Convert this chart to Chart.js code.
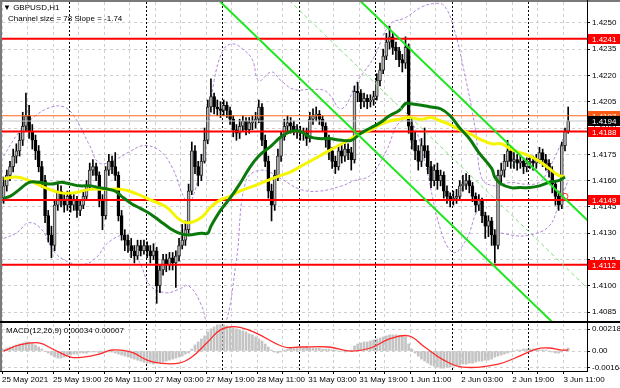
<!DOCTYPE html>
<html>
<head>
<meta charset="utf-8">
<script src="https://cdn.jsdelivr.net/npm/chart.js@4.4.0/dist/chart.umd.min.js"></script>
<style>
  html, body { margin: 0; padding: 0; background: #fff; }
  #wrap { position: relative; width: 620px; height: 388px; overflow: hidden; font-family: 'Liberation Sans', Arial, sans-serif; }
  #mainBox { position: absolute; left: 0; top: 0; width: 620px; height: 323px; }
  #macdBox { position: absolute; left: 0; top: 323px; width: 620px; height: 65px; }
  .lbl { position: absolute; font-size: 8px; line-height: 9px; color: #000; white-space: nowrap; }
</style>
</head>
<body>
<div id="wrap">
  <div id="mainBox"><canvas id="mainChart" width="620" height="323"></canvas></div>
  <div id="macdBox"><canvas id="macdChart" width="620" height="65"></canvas></div>
  <div class="lbl" style="left:3px;top:3px">▼ GBPUSD,H1</div>
  <div class="lbl" style="left:8px;top:14px">Channel size = 78 Slope = -1.74</div>
  <div class="lbl" style="left:6px;top:326px">MACD(12,26,9) 0.00034 0.00007</div>
</div>
<script>
// GBPUSD H1 bars, 25 May 03:00 -> 3 Jun 12:00 (178 bars)
var opens = [
  1.4150, 1.4157, 1.4163, 1.4168, 1.4174, 1.4177, 1.4183, 1.4191, 1.4197, 1.4188,
  1.4183, 1.4177, 1.4168, 1.4160, 1.4140, 1.4129, 1.4123, 1.4146, 1.4154, 1.4149,
  1.4146, 1.4151, 1.4146, 1.4149, 1.4143, 1.4146, 1.4151, 1.4157, 1.4166, 1.4168,
  1.4163, 1.4149, 1.4140, 1.4166, 1.4171, 1.4168, 1.4163, 1.4140, 1.4129, 1.4126,
  1.4123, 1.4120, 1.4117, 1.4123, 1.4120, 1.4123, 1.4120, 1.4117, 1.4120, 1.4100,
  1.4109, 1.4115, 1.4112, 1.4116, 1.4113, 1.4117, 1.4123, 1.4126, 1.4132, 1.4154,
  1.4177, 1.4168, 1.4163, 1.4171, 1.4183, 1.4202, 1.4208, 1.4202, 1.4201, 1.4200,
  1.4203, 1.4200, 1.4195, 1.4189, 1.4187, 1.4191, 1.4194, 1.4189, 1.4193, 1.4194,
  1.4195, 1.4202, 1.4183, 1.4171, 1.4154, 1.4146, 1.4163, 1.4174, 1.4185, 1.4191,
  1.4193, 1.4191, 1.4189, 1.4188, 1.4187, 1.4187, 1.4184, 1.4195, 1.4197, 1.4198,
  1.4195, 1.4191, 1.4183, 1.4177, 1.4171, 1.4168, 1.4177, 1.4174, 1.4178, 1.4176,
  1.4172, 1.4211, 1.4210, 1.4205, 1.4207, 1.4205, 1.4206, 1.4208, 1.4217, 1.4223,
  1.4231, 1.4239, 1.4242, 1.4236, 1.4234, 1.4229, 1.4227, 1.4236, 1.4191, 1.4183,
  1.4177, 1.4171, 1.4180, 1.4177, 1.4168, 1.4160, 1.4166, 1.4160, 1.4163, 1.4154,
  1.4151, 1.4149, 1.4150, 1.4151, 1.4157, 1.4158, 1.4160, 1.4157, 1.4151, 1.4146,
  1.4149, 1.4140, 1.4134, 1.4137, 1.4129, 1.4123, 1.4163, 1.4166, 1.4171, 1.4177,
  1.4171, 1.4172, 1.4170, 1.4171, 1.4168, 1.4170, 1.4171, 1.4170, 1.4172, 1.4176,
  1.4172, 1.4170, 1.4166, 1.4158, 1.4151, 1.4146, 1.4180, 1.4188
];
var highs = [
  1.4162, 1.4166, 1.4171, 1.4178, 1.4181, 1.4187, 1.4199, 1.4210, 1.4203, 1.4192,
  1.4186, 1.4180, 1.4171, 1.4163, 1.4143, 1.4134, 1.4149, 1.4158, 1.4157, 1.4152,
  1.4154, 1.4153, 1.4152, 1.4151, 1.4149, 1.4154, 1.4160, 1.4170, 1.4172, 1.4170,
  1.4165, 1.4152, 1.4168, 1.4175, 1.4174, 1.4176, 1.4165, 1.4143, 1.4132, 1.4129,
  1.4127, 1.4123, 1.4126, 1.4126, 1.4126, 1.4125, 1.4123, 1.4124, 1.4122, 1.4112,
  1.4118, 1.4118, 1.4119, 1.4119, 1.4120, 1.4127, 1.4135, 1.4137, 1.4158, 1.4182,
  1.4180, 1.4171, 1.4175, 1.4190, 1.4206, 1.4218, 1.4210, 1.4206, 1.4205, 1.4206,
  1.4205, 1.4202, 1.4197, 1.4192, 1.4195, 1.4197, 1.4196, 1.4196, 1.4197, 1.4199,
  1.4206, 1.4204, 1.4186, 1.4174, 1.4158, 1.4166, 1.4178, 1.4188, 1.4195, 1.4197,
  1.4196, 1.4194, 1.4192, 1.4191, 1.4190, 1.4190, 1.4199, 1.4201, 1.4202, 1.4200,
  1.4197, 1.4193, 1.4186, 1.4179, 1.4174, 1.4180, 1.4180, 1.4181, 1.4181, 1.4179,
  1.4214, 1.4216, 1.4212, 1.4210, 1.4209, 1.4209, 1.4211, 1.4221, 1.4227, 1.4235,
  1.4244, 1.4248, 1.4244, 1.4239, 1.4236, 1.4232, 1.4242, 1.4238, 1.4196, 1.4188,
  1.4180, 1.4184, 1.4190, 1.4180, 1.4171, 1.4169, 1.4170, 1.4166, 1.4165, 1.4157,
  1.4153, 1.4154, 1.4155, 1.4160, 1.4163, 1.4164, 1.4163, 1.4159, 1.4153, 1.4152,
  1.4150, 1.4142, 1.4140, 1.4139, 1.4132, 1.4166, 1.4170, 1.4175, 1.4183, 1.4179,
  1.4176, 1.4175, 1.4174, 1.4173, 1.4173, 1.4174, 1.4174, 1.4175, 1.4179, 1.4178,
  1.4175, 1.4172, 1.4168, 1.4160, 1.4154, 1.4182, 1.4190, 1.4202
];
var lows = [
  1.4147, 1.4154, 1.4160, 1.4165, 1.4170, 1.4174, 1.4180, 1.4188, 1.4184, 1.4178,
  1.4172, 1.4165, 1.4156, 1.4136, 1.4125, 1.4116, 1.4120, 1.4143, 1.4145, 1.4142,
  1.4143, 1.4142, 1.4143, 1.4139, 1.4140, 1.4144, 1.4149, 1.4155, 1.4163, 1.4160,
  1.4145, 1.4132, 1.4138, 1.4163, 1.4164, 1.4160, 1.4137, 1.4126, 1.4120, 1.4119,
  1.4116, 1.4113, 1.4115, 1.4117, 1.4118, 1.4116, 1.4113, 1.4115, 1.4090, 1.4096,
  1.4106, 1.4108, 1.4109, 1.4109, 1.4099, 1.4114, 1.4121, 1.4123, 1.4130, 1.4152,
  1.4164, 1.4157, 1.4160, 1.4170, 1.4181, 1.4199, 1.4198, 1.4197, 1.4196, 1.4197,
  1.4196, 1.4192, 1.4185, 1.4183, 1.4184, 1.4188, 1.4186, 1.4187, 1.4189, 1.4190,
  1.4193, 1.4180, 1.4168, 1.4150, 1.4137, 1.4143, 1.4160, 1.4171, 1.4183, 1.4188,
  1.4187, 1.4186, 1.4184, 1.4183, 1.4183, 1.4180, 1.4182, 1.4192, 1.4194, 1.4192,
  1.4188, 1.4179, 1.4172, 1.4167, 1.4164, 1.4166, 1.4170, 1.4171, 1.4172, 1.4166,
  1.4170, 1.4205, 1.4201, 1.4202, 1.4201, 1.4202, 1.4203, 1.4206, 1.4214, 1.4221,
  1.4229, 1.4235, 1.4232, 1.4229, 1.4225, 1.4222, 1.4224, 1.4187, 1.4178, 1.4172,
  1.4166, 1.4168, 1.4173, 1.4164, 1.4156, 1.4157, 1.4155, 1.4157, 1.4150, 1.4147,
  1.4145, 1.4146, 1.4147, 1.4149, 1.4154, 1.4155, 1.4153, 1.4148, 1.4142, 1.4143,
  1.4136, 1.4127, 1.4128, 1.4123, 1.4113, 1.4121, 1.4158, 1.4162, 1.4168, 1.4167,
  1.4167, 1.4166, 1.4167, 1.4164, 1.4165, 1.4167, 1.4166, 1.4167, 1.4170, 1.4168,
  1.4166, 1.4162, 1.4153, 1.4146, 1.4143, 1.4144, 1.4177, 1.4187
];
var closes = [
  1.4157, 1.4163, 1.4168, 1.4174, 1.4177, 1.4183, 1.4191, 1.4197, 1.4188, 1.4183,
  1.4177, 1.4168, 1.4160, 1.4140, 1.4129, 1.4123, 1.4146, 1.4154, 1.4149, 1.4146,
  1.4151, 1.4146, 1.4149, 1.4143, 1.4146, 1.4151, 1.4157, 1.4166, 1.4168, 1.4163,
  1.4149, 1.4140, 1.4166, 1.4171, 1.4168, 1.4163, 1.4140, 1.4129, 1.4126, 1.4123,
  1.4120, 1.4117, 1.4123, 1.4120, 1.4123, 1.4120, 1.4117, 1.4120, 1.4100, 1.4109,
  1.4115, 1.4112, 1.4116, 1.4113, 1.4117, 1.4123, 1.4126, 1.4132, 1.4154, 1.4177,
  1.4168, 1.4163, 1.4171, 1.4183, 1.4202, 1.4208, 1.4202, 1.4201, 1.4200, 1.4203,
  1.4200, 1.4195, 1.4189, 1.4187, 1.4191, 1.4194, 1.4189, 1.4193, 1.4194, 1.4195,
  1.4202, 1.4183, 1.4171, 1.4154, 1.4146, 1.4163, 1.4174, 1.4185, 1.4191, 1.4193,
  1.4191, 1.4189, 1.4188, 1.4187, 1.4187, 1.4184, 1.4195, 1.4197, 1.4198, 1.4195,
  1.4191, 1.4183, 1.4177, 1.4171, 1.4168, 1.4177, 1.4174, 1.4178, 1.4176, 1.4172,
  1.4211, 1.4210, 1.4205, 1.4207, 1.4205, 1.4206, 1.4208, 1.4217, 1.4223, 1.4231,
  1.4239, 1.4242, 1.4236, 1.4234, 1.4229, 1.4227, 1.4236, 1.4191, 1.4183, 1.4177,
  1.4171, 1.4180, 1.4177, 1.4168, 1.4160, 1.4166, 1.4160, 1.4163, 1.4154, 1.4151,
  1.4149, 1.4150, 1.4151, 1.4157, 1.4158, 1.4160, 1.4157, 1.4151, 1.4146, 1.4149,
  1.4140, 1.4134, 1.4137, 1.4129, 1.4123, 1.4163, 1.4166, 1.4171, 1.4177, 1.4171,
  1.4172, 1.4170, 1.4171, 1.4168, 1.4170, 1.4171, 1.4170, 1.4172, 1.4176, 1.4172,
  1.4170, 1.4166, 1.4158, 1.4151, 1.4146, 1.4180, 1.4188, 1.4194
];

// moving averages, sampled at bar indexes
var yellowMaBars = [0, 4, 8, 13, 18, 22, 27, 32, 37, 41, 46, 51, 55, 58, 62, 65, 68, 71, 74, 77, 80, 84, 87, 90, 93, 96, 99, 102, 106, 109, 112, 115, 118, 121, 124, 127, 131, 134, 137, 140, 143, 146, 149, 153, 156, 159, 162, 165, 168, 171, 174, 176];
var yellowMa = [1.4161, 1.4162, 1.4160, 1.4156, 1.4153, 1.4153, 1.4155, 1.4155, 1.4155, 1.4153, 1.4149, 1.4145, 1.4138, 1.4136, 1.4139, 1.4145, 1.4149, 1.4151, 1.4154, 1.4156, 1.4158, 1.4161, 1.4163, 1.4165, 1.4168, 1.4171, 1.4174, 1.4177, 1.4181, 1.4184, 1.4187, 1.4189, 1.4192, 1.4194, 1.4195, 1.4196, 1.4195, 1.4196, 1.4194, 1.4192, 1.4189, 1.4187, 1.4184, 1.4181, 1.4181, 1.4178, 1.4176, 1.4174, 1.4171, 1.4167, 1.4163, 1.4162];
var greenMaBars = [0, 2, 5, 8, 11, 15, 18, 21, 24, 27, 30, 33, 35, 37, 40, 43, 46, 49, 52, 55, 58, 62, 64, 65, 68, 71, 74, 77, 80, 84, 87, 90, 93, 96, 99, 102, 106, 109, 112, 115, 118, 121, 124, 126, 127, 131, 134, 137, 140, 143, 146, 149, 153, 154, 156, 159, 162, 165, 168, 171, 174, 176];
var greenMa = [1.4150, 1.4151, 1.4155, 1.4159, 1.4159, 1.4158, 1.4159, 1.4158, 1.4157, 1.4157, 1.4156, 1.4155, 1.4154, 1.4151, 1.4147, 1.4144, 1.4141, 1.4137, 1.4133, 1.4130, 1.4129, 1.4130, 1.4130, 1.4134, 1.4143, 1.4150, 1.4158, 1.4167, 1.4174, 1.4180, 1.4185, 1.4188, 1.4188, 1.4185, 1.4184, 1.4184, 1.4183, 1.4183, 1.4187, 1.4190, 1.4193, 1.4197, 1.4200, 1.4204, 1.4204, 1.4203, 1.4202, 1.4201, 1.4197, 1.4190, 1.4184, 1.4176, 1.4167, 1.4162, 1.4158, 1.4156, 1.4156, 1.4156, 1.4157, 1.4159, 1.4160, 1.4162];

// band lines (purple dashed)
var upperBandBars = [0, 5, 10, 15, 19, 22, 27, 30, 35, 40, 44, 49, 53, 57, 59, 62, 64, 66, 69, 72, 75, 78, 80, 84, 87, 91, 96, 101, 106, 111, 116, 121, 126, 131, 135, 138, 141, 145, 148, 150, 154, 159, 163, 168, 171, 174, 177];
var upperBand = [1.4174, 1.4188, 1.4197, 1.4202, 1.4202, 1.4197, 1.4180, 1.4170, 1.4172, 1.4177, 1.4180, 1.4177, 1.4167, 1.4149, 1.4149, 1.4171, 1.4188, 1.4217, 1.4235, 1.4238, 1.4235, 1.4229, 1.4217, 1.4222, 1.4217, 1.4212, 1.4212, 1.4211, 1.4201, 1.4217, 1.4230, 1.4249, 1.4253, 1.4259, 1.4261, 1.4260, 1.4248, 1.4217, 1.4188, 1.4161, 1.4157, 1.4159, 1.4158, 1.4159, 1.4167, 1.4178, 1.4191];
var lowerBandBars = [0, 4, 8, 12, 16, 21, 25, 29, 33, 38, 43, 46, 51, 55, 58, 62, 65, 69, 73, 76, 81, 87, 93, 99, 106, 110, 115, 120, 124, 128, 132, 137, 141, 145, 149, 153, 159, 165, 171, 174, 177];
var lowerBand = [1.4127, 1.4130, 1.4136, 1.4132, 1.4119, 1.4113, 1.4112, 1.4116, 1.4125, 1.4128, 1.4112, 1.4100, 1.4096, 1.4098, 1.4100, 1.4089, 1.4072, 1.4075, 1.4115, 1.4160, 1.4166, 1.4161, 1.4155, 1.4154, 1.4157, 1.4160, 1.4163, 1.4177, 1.4193, 1.4193, 1.4171, 1.4132, 1.4119, 1.4126, 1.4143, 1.4133, 1.4129, 1.4129, 1.4134, 1.4146, 1.4160];

// price channel: [bar, price] end points
var channelLower = [[66, 1.42654], [174, 1.40758]];
var channelUpper = [[110, 1.42657], [184, 1.41357]];
var channelMid = [[88, 1.42655], [184, 1.40969]];

var redLevels = [1.4241, 1.4188, 1.4149, 1.4112];
var orangeLevel = 1.4197;
var bidLevel = 1.4194;
var markerPoint = [{ x: 176, y: 1.4151 }];

// MACD histogram, one per bar
var macdHist = [
  0.0002, 0.0003, 0.0004, 0.0005,
  0.0006, 0.0007, 0.0008, 0.0009, 0.0009, 0.0008,
  0.0006, 0.0004, 0.0002, 0.0000,
  -0.0002, -0.0004, -0.0006, -0.0007, -0.0007, -0.0006, -0.0005, -0.0004,
  -0.0003, -0.0003, -0.0002, -0.0002, -0.0002, -0.0001, -0.0001, -0.0001, -0.0002,
  -0.0002, -0.0001, -0.0001, -0.0001, -0.0002, -0.0003, -0.0004, -0.0005, -0.0006, -0.0007,
  -0.0008, -0.0009, -0.0010, -0.0011, -0.0012, -0.0012, -0.0013, -0.0012, -0.0012, -0.0011,
  -0.0010, -0.0009, -0.0008, -0.0007, -0.0006, -0.0005, -0.0003, -0.0002,
  0.0002, 0.0006, 0.0009, 0.0012, 0.0015, 0.0019,
  0.0022, 0.0024, 0.0026, 0.0026, 0.0026, 0.0025, 0.0024, 0.0023,
  0.0022, 0.0021, 0.0020, 0.0019, 0.0017, 0.0016, 0.0014, 0.0012, 0.0010, 0.0007,
  0.0004, 0.0001, -0.0001, -0.0002, -0.0001, 0.0001,
  0.0002, 0.0003, 0.0003, 0.0003, 0.0003, 0.0003, 0.0004, 0.0003,
  0.0003, 0.0003, 0.0003, 0.0002, 0.0002, 0.0002, 0.0001, 0.0001, 0.0000, 0.0000,
  -0.0001, 0.0000, 0.0001, 0.0005,
  0.0007, 0.0008, 0.0009, 0.0009, 0.0010, 0.0011, 0.0012,
  0.0013, 0.0014, 0.0015, 0.0016, 0.0016, 0.0016, 0.0015, 0.0015, 0.0014,
  0.0007, 0.0002, -0.0002, -0.0005, -0.0008,
  -0.0010, -0.0012, -0.0014, -0.0015, -0.0016, -0.0017, -0.0017, -0.0016, -0.0016,
  -0.0015, -0.0015, -0.0014, -0.0013, -0.0013, -0.0012, -0.0012, -0.0011, -0.0010, -0.0010,
  -0.0009, -0.0009, -0.0008, -0.0006, -0.0005, -0.0004, -0.0003, -0.0002,
  -0.0001, 0.0000, 0.0001, 0.0001, 0.0002, 0.0002, 0.0002, 0.0002,
  0.0002, 0.0001, 0.0001, 0.0001, 0.0000, -0.0001, -0.0002,
  -0.0002, -0.0001, 0.0001, 0.0003
];
var signalBars = [0, 5, 11, 16, 21, 25, 30, 34, 40, 45, 49, 55, 59, 64, 68, 73, 79, 88, 93, 102, 109, 115, 121, 127, 132, 138, 144, 155, 161, 167, 171, 175, 177];
var signalVals = [0.0000, 0.0006, 0.0008, 0.0001, -0.0006, -0.0006, -0.0003, 0.0001, -0.0001, -0.0009, -0.0012, -0.0012, -0.0006, 0.0009, 0.0021, 0.0024, 0.0018, 0.0004, 0.0004, 0.0004, 0.0000, 0.0003, 0.0012, 0.0015, 0.0004, -0.0009, -0.0016, -0.0013, -0.0006, 0.0002, 0.0003, 0.0001, 0.0001];

// axis ticks / labels
var priceTicks = [1.4085, 1.4100, 1.4115, 1.4130, 1.4145, 1.4160, 1.4175, 1.4190, 1.4205, 1.4220, 1.4235, 1.4250];
var macdTicks = [-0.00164, 0, 0.00218];
var timeLabels = ['25 May 2021', '25 May 19:00', '26 May 11:00', '27 May 03:00', '27 May 19:00', '28 May 11:00',
                  '31 May 03:00', '31 May 19:00', '1 Jun 11:00', '2 Jun 03:00', '2 Jun 19:00', '3 Jun 11:00'];
var dayStarts = [21, 45, 69, 93, 117, 141, 165]; // first bar of each new day

var X_MIN = -0.5, X_MAX = 182.9;
var FONT = { family: "'Liberation Sans', Arial, sans-serif", size: 8 };
var gridX = [];
for (var g = 0; g < 23; g++) gridX.push(g * 8 - 0.5);

function pts(bars, vals) {
  return bars.map(function (b, i) { return { x: b, y: vals[i] }; });
}
function pairPts(p) {
  return p.map(function (q) { return { x: q[0], y: q[1] }; });
}
function hLine(v) {
  return [{ x: X_MIN, y: v }, { x: X_MAX, y: v }];
}

// dotted day separators in both panels
var daySeparators = {
  id: 'daySeparators',
  beforeDatasetsDraw: function (chart) {
    var ctx = chart.ctx, area = chart.chartArea, x = chart.scales.x;
    ctx.save();
    ctx.strokeStyle = '#000';
    ctx.lineWidth = 1;
    ctx.setLineDash([2, 2]);
    dayStarts.forEach(function (bar) {
      var px = Math.round(x.getPixelForValue(bar - 0.5)) + 0.5;
      ctx.beginPath();
      ctx.moveTo(px, area.top);
      ctx.lineTo(px, area.bottom);
      ctx.stroke();
    });
    ctx.restore();
  }
};

// frame + price boxes on the right axis
var mainFrame = {
  id: 'mainFrame',
  afterDraw: function (chart) {
    var ctx = chart.ctx, area = chart.chartArea, y = chart.scales.y;
    ctx.save();
    ctx.fillStyle = '#7a7a7a';
    ctx.fillRect(0, 0, 620, 2);
    ctx.fillRect(0, 0, 2, area.bottom);
    ctx.fillStyle = '#000';
    ctx.fillRect(Math.round(area.right), 0, 1, area.bottom);
    ctx.fillRect(0, area.bottom, 620, 2);

    function box(v, bg, fg) {
      var py = Math.round(y.getPixelForValue(v));
      ctx.fillStyle = bg;
      ctx.fillRect(area.right + 1, py - 5, 620 - area.right - 1, 10);
      ctx.fillStyle = fg;
      ctx.font = '8px ' + FONT.family;
      ctx.textBaseline = 'middle';
      ctx.fillText(v.toFixed(4), area.right + 5, py + 0.5);
    }
    box(orangeLevel, '#ff5a14', '#fff');
    box(bidLevel, '#000', '#fff');
    redLevels.forEach(function (v) { box(v, '#ff0000', '#fff'); });
    ctx.restore();
  }
};

var macdFrame = {
  id: 'macdFrame',
  afterDraw: function (chart) {
    var ctx = chart.ctx, area = chart.chartArea;
    ctx.save();
    ctx.fillStyle = '#7a7a7a';
    ctx.fillRect(0, 0, 2, area.bottom);
    ctx.fillStyle = '#000';
    ctx.fillRect(Math.round(area.right), 0, 1, area.bottom + 1);
    ctx.fillRect(0, Math.round(area.bottom), Math.round(area.right) + 1, 1);
    ctx.restore();
  }
};

var wickData = lows.map(function (l, i) { return { x: i, y: [l, highs[i]] }; });
var bodyData = closes.map(function (c, i) { return { x: i, y: [opens[i], c] }; });
var bodyFill = closes.map(function (c, i) { return c >= opens[i] ? '#b9b9b9' : '#000'; });
var bodyEdge = closes.map(function (c, i) { return c >= opens[i] ? '#303030' : '#000'; });

var mainDatasets = [
  { type: 'line', data: pairPts(channelUpper), borderColor: '#1ee61e', borderWidth: 2, pointRadius: 0, order: 1 },
  { type: 'line', data: pairPts(channelLower), borderColor: '#1ee61e', borderWidth: 2, pointRadius: 0, order: 1 },
  { type: 'line', data: pairPts(channelMid), borderColor: '#7fe07f', borderWidth: 1, borderDash: [4, 3], pointRadius: 0, order: 2 },
  { type: 'line', data: markerPoint, showLine: false, pointRadius: 3, pointBorderColor: '#ff3030', pointBackgroundColor: 'rgba(0,0,0,0)', pointBorderWidth: 1, order: 1 },
  { type: 'line', data: pts(greenMaBars, greenMa), borderColor: '#0b7a0b', borderWidth: 3, pointRadius: 0, tension: 0.4, order: 3 },
  { type: 'line', data: pts(yellowMaBars, yellowMa), borderColor: '#f5f500', borderWidth: 3, pointRadius: 0, tension: 0.4, order: 4 },
  { type: 'line', data: hLine(orangeLevel), borderColor: '#ff6a1a', borderWidth: 1, pointRadius: 0, order: 5 },
  { type: 'line', data: hLine(bidLevel), borderColor: '#c4c4c4', borderWidth: 1, pointRadius: 0, order: 5 }
];
redLevels.forEach(function (v) {
  mainDatasets.push({ type: 'line', data: hLine(v), borderColor: '#ff0000', borderWidth: 2, pointRadius: 0, order: 5 });
});
mainDatasets.push(
  { type: 'bar', data: bodyData, backgroundColor: bodyFill, borderColor: bodyEdge, borderWidth: 1, borderSkipped: false,
    barThickness: 3, minBarLength: 1, grouped: false, order: 6 },
  { type: 'bar', data: wickData, backgroundColor: '#000', barThickness: 1, grouped: false, order: 7 },
  { type: 'line', data: pts(upperBandBars, upperBand), borderColor: '#b287dc', borderWidth: 1, borderDash: [3, 2], pointRadius: 0, tension: 0.4, order: 8 },
  { type: 'line', data: pts(lowerBandBars, lowerBand), borderColor: '#b287dc', borderWidth: 1, borderDash: [3, 2], pointRadius: 0, tension: 0.4, order: 8 }
);

Chart.defaults.font.family = FONT.family;
Chart.defaults.color = '#000';

new Chart(document.getElementById('mainChart'), {
  type: 'bar',
  data: { datasets: mainDatasets },
  options: {
    responsive: false,
    animation: false,
    events: [],
    layout: { autoPadding: false, padding: { left: 2, top: 2, right: 0, bottom: 2 } },
    plugins: { legend: { display: false }, tooltip: { enabled: false } },
    scales: {
      x: {
        type: 'linear', min: X_MIN, max: X_MAX, offset: false,
        afterBuildTicks: function (s) { s.ticks = gridX.map(function (v) { return { value: v }; }); },
        afterFit: function (s) { s.height = 0; s.paddingLeft = 0; s.paddingRight = 0; },
        ticks: { display: false },
        grid: { offset: false, color: '#cfcfcf', drawTicks: false },
        border: { display: false, dash: [3, 3] }
      },
      y: {
        position: 'right', min: 1.40799, max: 1.42619, beginAtZero: false,
        afterBuildTicks: function (s) { s.ticks = priceTicks.map(function (v) { return { value: v }; }); },
        afterFit: function (s) { s.width = 33; s.paddingTop = 0; s.paddingBottom = 0; },
        ticks: { font: FONT, color: '#000', padding: 2, callback: function (v) { return Number(v).toFixed(4); } },
        grid: { color: '#cfcfcf', tickLength: 3, tickColor: '#000', tickBorderDash: [] },
        border: { display: false, dash: [3, 3] }
      }
    }
  },
  plugins: [daySeparators, mainFrame]
});

new Chart(document.getElementById('macdChart'), {
  type: 'bar',
  data: {
    datasets: [
      { type: 'line', data: pts(signalBars, signalVals), borderColor: '#ff2a2a', borderWidth: 1.3, pointRadius: 0, tension: 0.4, order: 1 },
      { type: 'bar', data: macdHist.map(function (v, i) { return { x: i, y: v }; }), backgroundColor: '#c4c4c4',
        barThickness: 2, grouped: false, order: 2 }
    ]
  },
  options: {
    responsive: false,
    animation: false,
    events: [],
    layout: { autoPadding: false, padding: { left: 2, top: 1, right: 0, bottom: 0 } },
    plugins: { legend: { display: false }, tooltip: { enabled: false } },
    scales: {
      x: {
        type: 'linear', min: X_MIN, max: X_MAX, offset: false,
        afterBuildTicks: function (s) { s.ticks = gridX.map(function (v) { return { value: v }; }); },
        afterFit: function (s) { s.height = 17; s.paddingLeft = 0; s.paddingRight = 0; },
        ticks: {
          font: FONT, color: '#000', align: 'start', padding: 1, autoSkip: false, maxRotation: 0,
          callback: function (v, i) { return i % 2 === 0 ? (timeLabels[i / 2] || '') : ''; }
        },
        grid: { offset: false, color: '#cfcfcf', tickLength: 3, tickColor: '#000', tickBorderDash: [] },
        border: { display: false, dash: [3, 3] }
      },
      y: {
        position: 'right', min: -0.00198, max: 0.00268, beginAtZero: false,
        afterBuildTicks: function (s) { s.ticks = macdTicks.map(function (v) { return { value: v }; }); },
        afterFit: function (s) { s.width = 33; s.paddingTop = 0; s.paddingBottom = 0; },
        ticks: { font: FONT, color: '#000', padding: 2, callback: function (v) { return v === 0 ? '0.00' : Number(v).toFixed(5); } },
        grid: { color: '#cfcfcf', tickLength: 3, tickColor: '#000', tickBorderDash: [] },
        border: { display: false, dash: [3, 3] }
      }
    }
  },
  plugins: [daySeparators, macdFrame]
});
</script>
</body>
</html>
